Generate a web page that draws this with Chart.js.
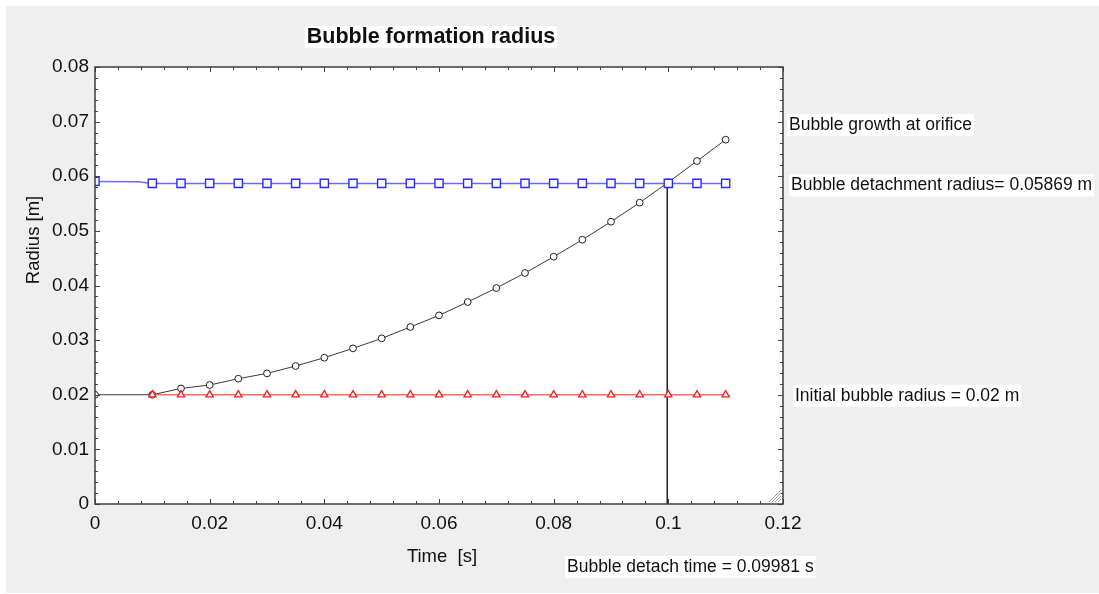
<!DOCTYPE html>
<html>
<head>
<meta charset="utf-8">
<script src="https://cdn.jsdelivr.net/npm/chart.js@4.4.1/dist/chart.umd.min.js"></script>
<style>
  html, body { margin: 0; padding: 0; background: #ffffff; }
  canvas { display: block; }
</style>
</head>
<body>
<canvas id="bubbleChart" width="1099" height="594"></canvas>
<script>
// data
const timeGrowth = [0, 0.01, 0.015, 0.02, 0.025, 0.03, 0.035, 0.04, 0.045, 0.05, 0.055,
  0.06, 0.065, 0.07, 0.075, 0.08, 0.085, 0.09, 0.095, 0.1, 0.105, 0.11];
const radiusGrowth = [0.02, 0.02, 0.02116, 0.02178, 0.02294, 0.02391, 0.02526, 0.02678, 0.02849, 0.03032, 0.0324,
  0.03453, 0.03698, 0.03954, 0.04229, 0.04527, 0.04838, 0.05168, 0.05516, 0.0589, 0.06279, 0.06669];

// second value is a line vertex without marker (small step before 0.01)
const timeDetach = [0, 0.0075, 0.01, 0.015, 0.02, 0.025, 0.03, 0.035, 0.04, 0.045, 0.05, 0.055,
  0.06, 0.065, 0.07, 0.075, 0.08, 0.085, 0.09, 0.095, 0.1, 0.105, 0.11];
const radiusDetach = [0.05905, 0.05900, 0.05869, 0.05869, 0.05869, 0.05869, 0.05869, 0.05869, 0.05869, 0.05869, 0.05869, 0.05869,
  0.05869, 0.05869, 0.05869, 0.05869, 0.05869, 0.05869, 0.05869, 0.05869, 0.05869, 0.05869, 0.05869];

const timeInitial = [0.01, 0.015, 0.02, 0.025, 0.03, 0.035, 0.04, 0.045, 0.05, 0.055,
  0.06, 0.065, 0.07, 0.075, 0.08, 0.085, 0.09, 0.095, 0.1, 0.105, 0.11];
const radiusInitial = [0.02, 0.02, 0.02, 0.02, 0.02, 0.02, 0.02, 0.02, 0.02, 0.02,
  0.02, 0.02, 0.02, 0.02, 0.02, 0.02, 0.02, 0.02, 0.02, 0.02, 0.02];

const detachTime = 0.09981;
const detachRadius = 0.05869;
const initialRadius = 0.02;

const xTickValues = [0, 0.02, 0.04, 0.06, 0.08, 0.1, 0.12];
const xTickLabels = ['0', '0.02', '0.04', '0.06', '0.08', '0.1', '0.12'];
const yTickValues = [0, 0.01, 0.02, 0.03, 0.04, 0.05, 0.06, 0.07, 0.08];
const yTickLabels = ['0', '0.01', '0.02', '0.03', '0.04', '0.05', '0.06', '0.07', '0.08'];

const FONT = '"Liberation Sans", Arial, sans-serif';

const toPoints = (xs, ys) => xs.map((x, i) => ({ x: x, y: ys[i] }));

// label with white box behind it
const boxText = (ctx, text, x, y, font, align) => {
  ctx.font = font;
  const w = ctx.measureText(text).width;
  const left = align === 'center' ? x - w / 2 : x;
  ctx.fillStyle = '#ffffff';
  ctx.fillRect(left - 2, y - 11, w + 4, 22);
  ctx.fillStyle = '#111111';
  ctx.textAlign = 'left';
  ctx.textBaseline = 'middle';
  ctx.fillText(text, left, y);
};

const framePlugin = {
  id: 'frame',
  beforeDraw(chart) {
    const { ctx, chartArea: a } = chart;
    ctx.save();
    ctx.fillStyle = '#ffffff';
    ctx.fillRect(0, 0, chart.width, chart.height);
    ctx.fillStyle = '#efefef';
    ctx.fillRect(6, 6, chart.width - 6, chart.height - 7);
    ctx.fillStyle = '#ffffff';
    ctx.fillRect(a.left, a.top, a.right - a.left, a.bottom - a.top);
    ctx.restore();
  },
  afterDraw(chart) {
    const { ctx, chartArea: a } = chart;
    const xs = chart.scales.x;
    const ys = chart.scales.y;
    ctx.save();

    // inward ticks on all four sides
    ctx.strokeStyle = '#444444';
    ctx.lineWidth = 1;
    ctx.beginPath();
    for (let i = 0; i < xTickValues.length; i++) {
      const px = Math.round(xs.getPixelForValue(xTickValues[i])) + 0.5;
      ctx.moveTo(px, a.bottom); ctx.lineTo(px, a.bottom - 5);
      ctx.moveTo(px, a.top); ctx.lineTo(px, a.top + 5);
      if (i < xTickValues.length - 1) {
        const step = (xTickValues[i + 1] - xTickValues[i]) / 5;
        for (let k = 1; k < 5; k++) {
          const mx = Math.round(xs.getPixelForValue(xTickValues[i] + k * step)) + 0.5;
          ctx.moveTo(mx, a.bottom); ctx.lineTo(mx, a.bottom - 3);
          ctx.moveTo(mx, a.top); ctx.lineTo(mx, a.top + 3);
        }
      }
    }
    for (let i = 0; i < yTickValues.length; i++) {
      const py = Math.round(ys.getPixelForValue(yTickValues[i])) + 0.5;
      ctx.moveTo(a.left, py); ctx.lineTo(a.left + 5, py);
      ctx.moveTo(a.right, py); ctx.lineTo(a.right - 5, py);
      if (i < yTickValues.length - 1) {
        const step = (yTickValues[i + 1] - yTickValues[i]) / 5;
        for (let k = 1; k < 5; k++) {
          const my = Math.round(ys.getPixelForValue(yTickValues[i] + k * step)) + 0.5;
          ctx.moveTo(a.left, my); ctx.lineTo(a.left + 3, my);
          ctx.moveTo(a.right, my); ctx.lineTo(a.right - 3, my);
        }
      }
    }
    ctx.stroke();

    // frame
    ctx.strokeStyle = '#3c3c3c';
    ctx.lineWidth = 1.5;
    ctx.strokeRect(a.left, a.top, a.right - a.left, a.bottom - a.top);

    // resize grip in the corner
    ctx.strokeStyle = '#9a9a9a';
    ctx.lineWidth = 1;
    ctx.beginPath();
    for (let k = 0; k < 4; k++) {
      const d = 3 + k * 3;
      ctx.moveTo(a.right - 2 - d, a.bottom - 2);
      ctx.lineTo(a.right - 2, a.bottom - 2 - d);
    }
    ctx.stroke();

    // title and annotations
    boxText(ctx, 'Bubble formation radius', 431, 37, 'bold 21.5px ' + FONT, 'center');
    boxText(ctx, 'Bubble growth at orifice', 789, 125, '17.5px ' + FONT, 'left');
    boxText(ctx, 'Bubble detachment radius= ' + detachRadius + ' m', 791,
      ys.getPixelForValue(detachRadius) + 2, '17.5px ' + FONT, 'left');
    boxText(ctx, 'Initial bubble radius = ' + initialRadius + ' m', 795,
      ys.getPixelForValue(initialRadius) + 1, '17.5px ' + FONT, 'left');
    boxText(ctx, 'Bubble detach time = ' + detachTime + ' s', 567, 567, '17.5px ' + FONT, 'left');

    // axis titles
    ctx.fillStyle = '#111111';
    ctx.font = '18.5px ' + FONT;
    ctx.textAlign = 'center';
    ctx.textBaseline = 'middle';
    ctx.fillText('Time  [s]', 442, 557);
    ctx.translate(34, 240);
    ctx.rotate(-Math.PI / 2);
    ctx.fillText('Radius [m]', 0, 0);

    ctx.restore();
  },
};

const ctxBubble = document.getElementById('bubbleChart').getContext('2d');
new Chart(ctxBubble, {
  type: 'line',
  data: {
    datasets: [
      {
        label: 'Bubble detachment radius',
        data: toPoints(timeDetach, radiusDetach),
        borderColor: '#6a6aff',
        borderWidth: 1.5,
        pointStyle: 'rect',
        pointRadius: (c) => (c.dataIndex === 1 ? 0 : 5.8),
        pointBorderColor: '#2a2aff',
        pointBackgroundColor: '#ffffff',
        pointBorderWidth: 1.4,
        tension: 0,
      },
      {
        label: 'Initial bubble radius',
        data: toPoints(timeInitial, radiusInitial),
        borderColor: '#ff6a6a',
        borderWidth: 1.5,
        pointStyle: 'triangle',
        pointRadius: 4.2,
        pointBorderColor: '#ff1a1a',
        pointBackgroundColor: '#ffffff',
        pointBorderWidth: 1.3,
        tension: 0,
      },
      {
        label: 'Bubble growth at orifice',
        data: toPoints(timeGrowth, radiusGrowth),
        borderColor: '#3a3a3a',
        borderWidth: 1,
        pointStyle: 'circle',
        pointRadius: 3.4,
        pointBorderColor: '#222222',
        pointBackgroundColor: '#ffffff',
        pointBorderWidth: 1,
        tension: 0,
      },
      {
        label: 'Detach time',
        data: [
          { x: detachTime, y: detachRadius },
          { x: detachTime, y: 0 },
        ],
        borderColor: '#222222',
        borderWidth: 1.5,
        pointRadius: 0,
      },
    ],
  },
  options: {
    responsive: false,
    animation: false,
    devicePixelRatio: 1,
    layout: {
      padding: { top: 67, right: 316, bottom: 0, left: 0 },
    },
    plugins: {
      legend: { display: false },
      tooltip: { enabled: false },
      title: { display: false },
    },
    scales: {
      x: {
        type: 'linear',
        min: 0,
        max: 0.12,
        afterBuildTicks: (scale) => {
          scale.ticks = xTickValues.map((v) => ({ value: v }));
        },
        afterFit: (scale) => {
          scale.height = 90;
        },
        grid: { display: false, drawTicks: false },
        border: { display: false },
        ticks: {
          padding: 8,
          maxRotation: 0,
          autoSkip: false,
          color: '#111111',
          font: { family: FONT, size: 19 },
          callback: (value, index) => xTickLabels[index],
        },
      },
      y: {
        type: 'linear',
        min: 0,
        max: 0.08,
        afterBuildTicks: (scale) => {
          scale.ticks = yTickValues.map((v) => ({ value: v }));
        },
        afterFit: (scale) => {
          scale.width = 95;
        },
        grid: { display: false, drawTicks: false },
        border: { display: false },
        ticks: {
          padding: 6,
          autoSkip: false,
          color: '#111111',
          font: { family: FONT, size: 19 },
          callback: (value, index) => yTickLabels[index],
        },
      },
    },
  },
  plugins: [framePlugin],
});
</script>
</body>
</html>
